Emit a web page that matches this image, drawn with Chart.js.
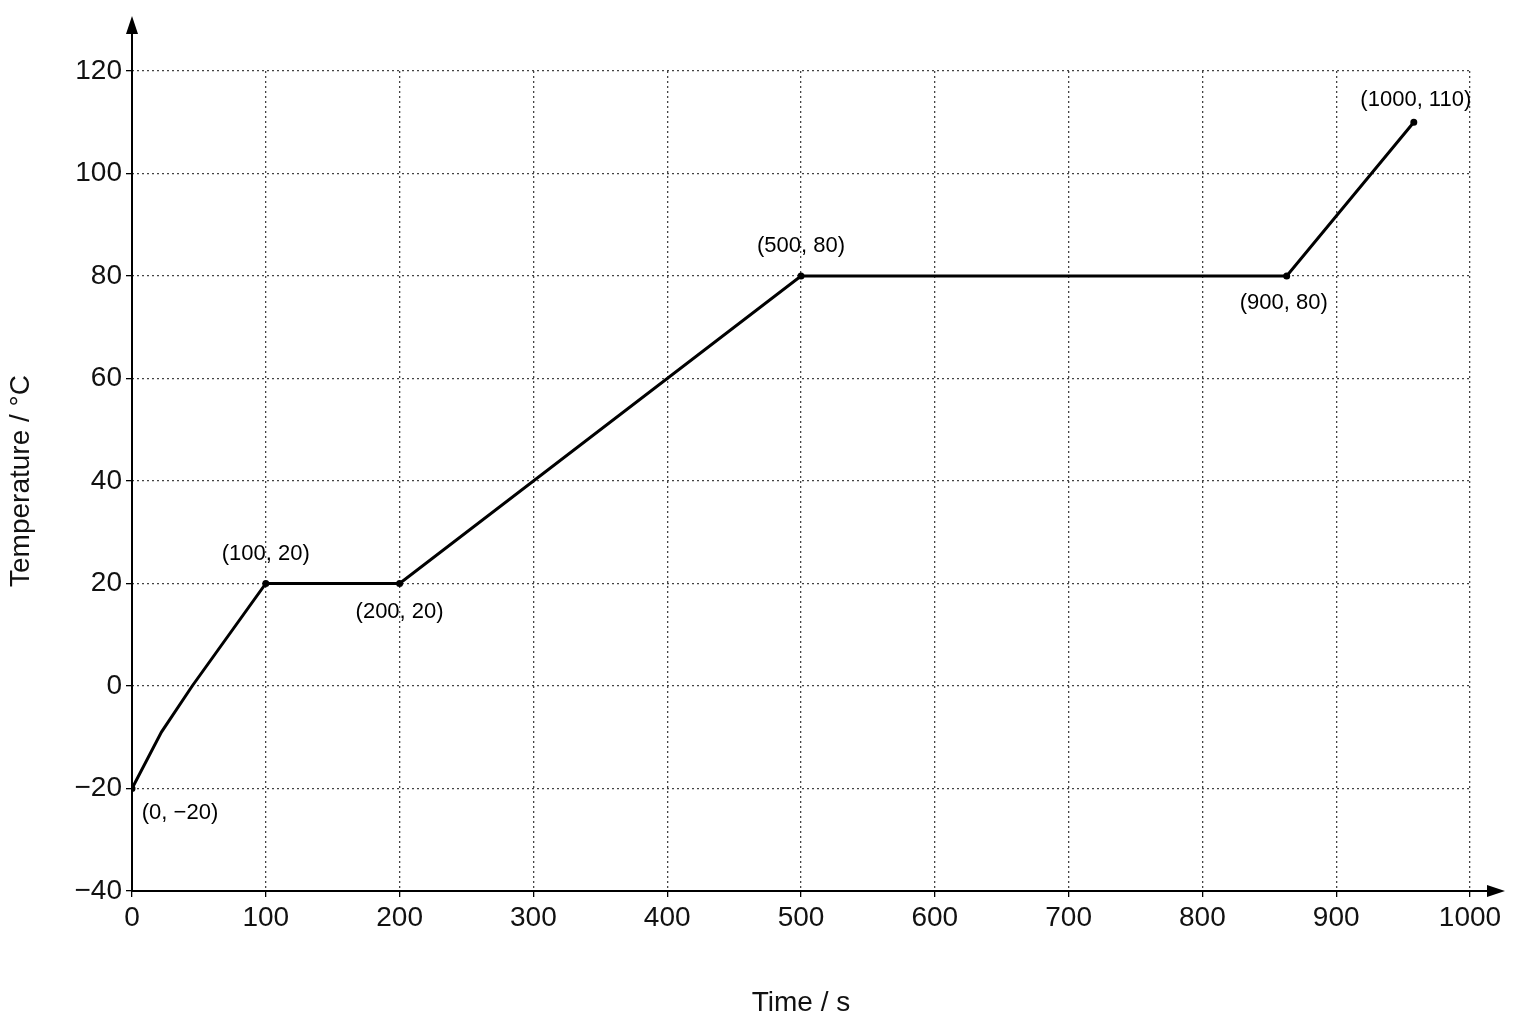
<!DOCTYPE html>
<html><head><meta charset="utf-8">
<script src="https://cdn.jsdelivr.net/npm/chart.js@4"></script>
<style>html,body{margin:0;background:#fff}#w{width:1536px;height:1024px}</style>
</head><body><div id="w"><canvas id="c"></canvas></div>
<script>
const timeS = [0, 22, 45, 100, 200, 500, 863, 958];
const tempC = [-20, -9, 0, 20, 20, 80, 80, 110];
const pointLabels = [
  {i:0, text:'(0, \u221220)', dx:48, dy:24},
  {i:3, text:'(100, 20)', dx:0, dy:-30},
  {i:4, text:'(200, 20)', dx:0, dy:28},
  {i:5, text:'(500, 80)', dx:0, dy:-30},
  {i:6, text:'(900, 80)', dx:-3, dy:27},
  {i:7, text:'(1000, 110)', dx:2, dy:-22}
];
const xTicks = [0,100,200,300,400,500,600,700,800,900,1000];
const yTicks = [-40,-20,0,20,40,60,80,100,120];
const F = '"Liberation Sans", Arial, sans-serif';
const extras = {
  id:'extras',
  afterDraw(ch){
    const c = ch.ctx, a = ch.chartArea;
    c.save();
    c.strokeStyle='#000'; c.fillStyle='#000'; c.lineWidth=2;
    c.beginPath(); c.moveTo(a.left,a.bottom); c.lineTo(a.left,28); c.stroke();
    c.beginPath(); c.moveTo(a.left,a.bottom); c.lineTo(1495,a.bottom); c.stroke();
    c.beginPath(); c.moveTo(a.left,16); c.lineTo(a.left-6,34); c.lineTo(a.left+6,34); c.closePath(); c.fill();
    c.beginPath(); c.moveTo(1505,a.bottom); c.lineTo(1487,a.bottom-6); c.lineTo(1487,a.bottom+6); c.closePath(); c.fill();
    const m = ch.getDatasetMeta(0);
    c.font = '22px '+F; c.textAlign='center'; c.textBaseline='middle';
    pointLabels.forEach(p=>{ const el=m.data[p.i]; c.fillText(p.text, el.x+p.dx, el.y+p.dy); });
    c.restore();
  }
};
new Chart(document.getElementById('c'), {
  type:'line',
  data:{datasets:[{data: timeS.map((x,i)=>({x, y: tempC[i]})), borderColor:'#000', borderWidth:3,
    pointRadius:[2,0,0,2,2,2,2,2], pointBackgroundColor:'#000', tension:0}]},
  options:{
    responsive:true, maintainAspectRatio:false, animation:false,
    layout:{padding:{left:0,right:66,top:71,bottom:0}},
    plugins:{legend:{display:false}, tooltip:{enabled:false}},
    scales:{
      x:{type:'linear', min:0, max:1000,
        afterBuildTicks(s){ s.ticks = xTicks.map(v=>({value:v})); },
        afterFit(s){ s.height = 133; },
        grid:{color:'#444', lineWidth:1.3, drawTicks:true, tickLength:6, tickColor:'#000'},
        border:{display:false, dash:[2,3]},
        ticks:{color:'#111', font:{family:F, size:28}, padding:4, callback:v=>String(v)},
        title:{display:true, text:'Time / s', color:'#111', font:{family:F, size:28}, padding:{top:10}}
      },
      y:{type:'linear', min:-40, max:120,
        afterBuildTicks(s){ s.ticks = yTicks.map(v=>({value:v})); },
        afterFit(s){ s.width = 132; },
        grid:{color:'#444', lineWidth:1.3, tickLength:6, tickColor:'#000'},
        border:{display:false, dash:[2,3]},
        ticks:{color:'#111', font:{family:F, size:28}, padding:4, callback:v=>String(v).replace('-','\u2212')},
        title:{display:true, text:'Temperature / \u00b0C', color:'#111', font:{family:F, size:28}, padding:{bottom:10}}
      }
    }
  },
  plugins:[extras]
});
</script></body></html>
